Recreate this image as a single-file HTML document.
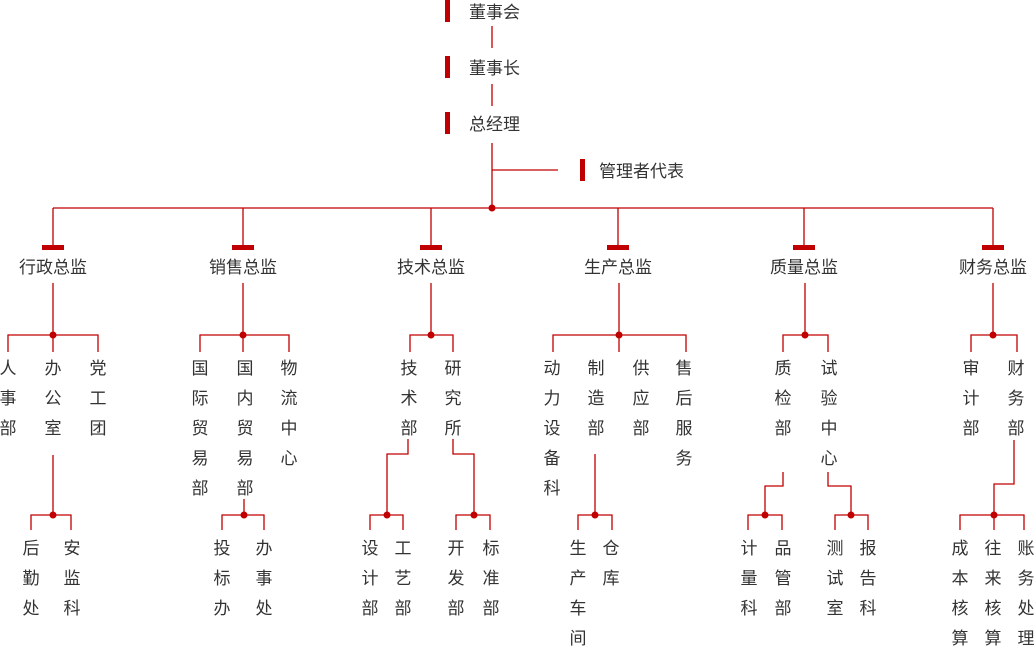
<!DOCTYPE html>
<html><head><meta charset="utf-8"><style>
body{margin:0;width:1036px;height:645px;background:#fff;position:relative;overflow:hidden;font-family:"Liberation Sans","Noto Sans CJK SC",sans-serif;color:#333;font-size:17px}
.w{position:absolute;left:0;top:2px;width:1036px;height:645px}
.t{position:absolute;white-space:nowrap;line-height:22px}
.c{position:absolute;width:24px;text-align:center;line-height:30px}
.h{position:absolute;width:100px;text-align:center;line-height:22px}
svg{position:absolute;left:0;top:0}
</style></head><body>
<svg width="1036" height="645" viewBox="0 0 1036 645">
<g stroke="#c00000" stroke-width="1.3" fill="none">
<path d="M492 26V48M492 84V106M492 143V208M492 170H558"/>
<path d="M53 208H993M53 208V245M243 208V245M431 208V245M618 208V245M804 208V245M993 208V245"/>
<path d="M53 283V335M243 283V335M431 283V335M619 283V335M805 283V335M993 283V335"/>
<path d="M8 352V335H98V352M53 335V352"/>
<path d="M53 455V515M31 530V515H71V530"/>
<path d="M200 352V335H289V352M243 335V352"/>
<path d="M244 499V515M222 530V515H264V530"/>
<path d="M410 352V335H453V352"/>
<path d="M408 439V454H387V515M370 530V515H403V530"/>
<path d="M453 439V454H474V515M456 530V515H490V530"/>
<path d="M553 352V335H686V352M619 335V352"/>
<path d="M595 454V515M578 530V515H612V530"/>
<path d="M783 352V335H828V352"/>
<path d="M783 472V486H765V515M748 530V515H782V530"/>
<path d="M828 472V486H851V515M835 530V515H868V530"/>
<path d="M971 352V335H1017V352"/>
<path d="M1014 440V484H994V515M960 530V515H1024V530M994 515V530"/>
</g>
<g fill="#c00000">
<rect x="445" y="0" width="5" height="22"/><rect x="445" y="56" width="5" height="22"/><rect x="445" y="112" width="5" height="22"/><rect x="580" y="159" width="5" height="22"/>
<rect x="42" y="245" width="22" height="5"/><rect x="232" y="245" width="22" height="5"/><rect x="420" y="245" width="22" height="5"/><rect x="607" y="245" width="22" height="5"/><rect x="793" y="245" width="22" height="5"/><rect x="982" y="245" width="22" height="5"/>
<circle cx="492" cy="208" r="3.5"/>
<circle cx="53" cy="335" r="3.5"/><circle cx="243" cy="335" r="3.5"/><circle cx="431" cy="335" r="3.5"/><circle cx="619" cy="335" r="3.5"/><circle cx="805" cy="335" r="3.5"/><circle cx="993" cy="335" r="3.5"/>
<circle cx="53" cy="515" r="3.5"/><circle cx="244" cy="515" r="3.5"/><circle cx="387" cy="515" r="3.5"/><circle cx="474" cy="515" r="3.5"/><circle cx="595" cy="515" r="3.5"/><circle cx="765" cy="515" r="3.5"/><circle cx="851" cy="515" r="3.5"/><circle cx="994" cy="515" r="3.5"/>
</g>
</svg>
<div class="w">
<div class="t" style="left:469px;top:0">董事会</div>
<div class="t" style="left:469px;top:56px">董事长</div>
<div class="t" style="left:469px;top:112px">总经理</div>
<div class="t" style="left:599px;top:159px">管理者代表</div>
<div class="h" style="left:3px;top:255px">行政总监</div>
<div class="h" style="left:193px;top:255px">销售总监</div>
<div class="h" style="left:381px;top:255px">技术总监</div>
<div class="h" style="left:568px;top:255px">生产总监</div>
<div class="h" style="left:754px;top:255px">质量总监</div>
<div class="h" style="left:943px;top:255px">财务总监</div>

<div class="c" style="left:-4px;top:352px">人<br>事<br>部</div>
<div class="c" style="left:41px;top:352px">办<br>公<br>室</div>
<div class="c" style="left:86px;top:352px">党<br>工<br>团</div>
<div class="c" style="left:19px;top:532px">后<br>勤<br>处</div>
<div class="c" style="left:60px;top:532px">安<br>监<br>科</div>

<div class="c" style="left:188px;top:352px">国<br>际<br>贸<br>易<br>部</div>
<div class="c" style="left:233px;top:352px">国<br>内<br>贸<br>易<br>部</div>
<div class="c" style="left:277px;top:352px">物<br>流<br>中<br>心</div>
<div class="c" style="left:210px;top:532px">投<br>标<br>办</div>
<div class="c" style="left:252px;top:532px">办<br>事<br>处</div>

<div class="c" style="left:397px;top:352px">技<br>术<br>部</div>
<div class="c" style="left:441px;top:352px">研<br>究<br>所</div>
<div class="c" style="left:358px;top:532px">设<br>计<br>部</div>
<div class="c" style="left:391px;top:532px">工<br>艺<br>部</div>
<div class="c" style="left:444px;top:532px">开<br>发<br>部</div>
<div class="c" style="left:479px;top:532px">标<br>准<br>部</div>

<div class="c" style="left:540px;top:352px">动<br>力<br>设<br>备<br>科</div>
<div class="c" style="left:584px;top:352px">制<br>造<br>部</div>
<div class="c" style="left:629px;top:352px">供<br>应<br>部</div>
<div class="c" style="left:672px;top:352px">售<br>后<br>服<br>务</div>
<div class="c" style="left:566px;top:532px">生<br>产<br>车<br>间</div>
<div class="c" style="left:599px;top:532px">仓<br>库</div>

<div class="c" style="left:771px;top:352px">质<br>检<br>部</div>
<div class="c" style="left:817px;top:352px">试<br>验<br>中<br>心</div>
<div class="c" style="left:737px;top:532px">计<br>量<br>科</div>
<div class="c" style="left:771px;top:532px">品<br>管<br>部</div>
<div class="c" style="left:823px;top:532px">测<br>试<br>室</div>
<div class="c" style="left:856px;top:532px">报<br>告<br>科</div>

<div class="c" style="left:959px;top:352px">审<br>计<br>部</div>
<div class="c" style="left:1004px;top:352px">财<br>务<br>部</div>
<div class="c" style="left:948px;top:532px">成<br>本<br>核<br>算</div>
<div class="c" style="left:981px;top:532px">往<br>来<br>核<br>算</div>
<div class="c" style="left:1014px;top:532px">账<br>务<br>处<br>理</div>
</div>
</body></html>
